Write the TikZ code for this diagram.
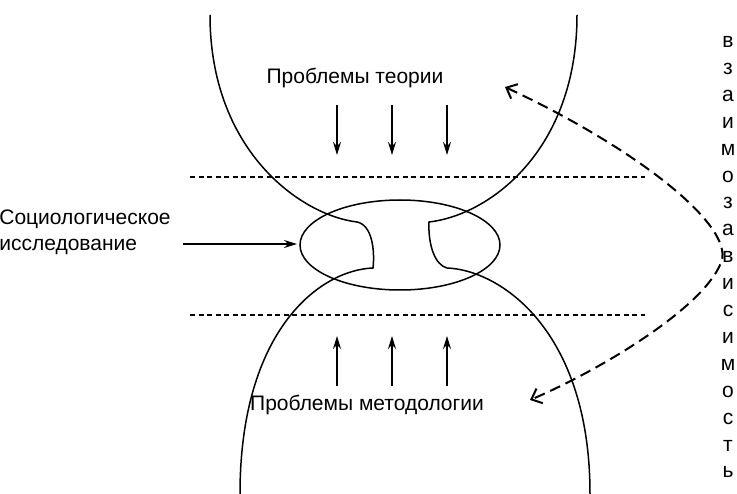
\documentclass[tikz,border=0pt]{standalone}
\usepackage{fontspec}
\setmainfont{Liberation Sans}
\usetikzlibrary{arrows.meta}
\begin{document}
\begin{tikzpicture}[x=1pt, y=-1pt, line width=1.5pt, >={Stealth[length=13pt,width=8pt]},
  lbl/.style={font=\fontsize{21}{26}\selectfont, align=center}]
\useasboundingbox (0,0) rectangle (737,494);

\node[lbl] (theory) at (355,78) {Проблемы теории};
\node[lbl] (method) at (367,405) {Проблемы методологии};
\node[lbl, align=left] (soc) at (85,232) {Социологическое\\исследование};

% boundary shapes
\draw (210,15) .. controls (210,150) and (300,215) .. (357,222)
  .. controls (372,225) and (375,250) .. (373,268)
  .. controls (320,270) and (240,330) .. (240,494);
\draw (577,15) .. controls (577,150) and (490,215) .. (429,222)
  .. controls (428,245) and (435,265) .. (447,268)
  .. controls (500,270) and (590,330) .. (590,494);
\draw (400,245) ellipse [x radius=100, y radius=45];

% dashed levels
\draw[dash pattern=on 5pt off 3.5pt] (190,177) -- (645,177);
\draw[dash pattern=on 5pt off 3.5pt] (190,315) -- (645,315);

% arrows
\foreach \x in {337,392,447} {
  \coordinate (d1) at (\x,105); \coordinate (d2) at (\x,155);
  \draw[->] (d1) -- (d2);
  \coordinate (u1) at (\x,386); \coordinate (u2) at (\x,336);
  \draw[->] (u1) -- (u2);
}
\coordinate (ell) at (297,244);
\draw[->] (183,244) -- (ell);

% interdependence
\coordinate (up) at (505,87);
\coordinate (dn) at (530,400);
\draw[line width=2pt, dash pattern=on 11pt off 6pt, {Straight Barb[length=9pt,width=16pt]}-{Straight Barb[length=9pt,width=16pt]}]
  (up) .. controls (640,150) and (740,230) .. (720,265)
  .. controls (700,310) and (600,370) .. (dn);
\foreach \c [count=\i from 0] in {в,з,а,и,м,о,з,а,в,и,с,и,м,о,с,т,ь}
  \node[lbl] (v\i) at (728,42+26.9*\i) {\c};
\end{tikzpicture}
\end{document}
